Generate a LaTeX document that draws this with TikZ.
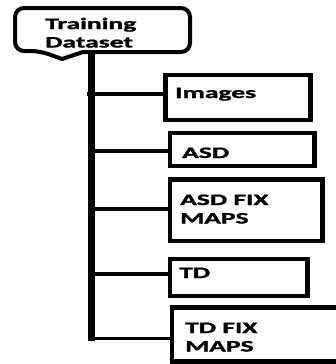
\documentclass[tikz,border=0pt]{standalone}
\usepackage{fontspec}
\setmainfont{Carlito}[BoldFeatures={FakeBold=1.2}]
\newcommand{\lbltext}[1]{\scalebox{1.72}[1]{\begin{tabular}[t]{@{}l@{}}#1\end{tabular}}}
\tikzset{
  boxnode/.style={draw, line width=4.5pt, inner sep=0pt, rectangle},
  lbl/.style={anchor=base west, inner sep=0pt, font=\fontsize{16}{18.5}\selectfont\bfseries, text=black},
  trunkline/.style={line width=7pt},
  branchline/.style={line width=3.2pt},
  calloutline/.style={line width=4pt, line join=round}
}
\begin{document}
\begin{tikzpicture}[x=1pt,y=-1pt]
\useasboundingbox (0,0) rectangle (336,364);
\clip (0,0) rectangle (336,364);
\fill[white] (0,0) rectangle (336,364);

% callout
\draw[calloutline] (83,52) [rounded corners=9pt] -- (190,52) -- (190,8) -- (15,8) -- (15,51) -- (40,51) [sharp corners] -- (62,59) -- cycle;
\node[lbl] (ds) at (45,29) {\lbltext{Training\\Dataset}};

% boxes
\node[boxnode, minimum width=145pt, minimum height=45pt] (img) at (238,97.5) {};
\node[boxnode, minimum width=144.5pt, minimum height=33pt] (asd) at (242.25,149.5) {};
\node[boxnode, minimum width=152.5pt, minimum height=61.5pt] (asdfix) at (246.25,210.25) {};
\node[boxnode, minimum width=137.5pt, minimum height=37pt] (td) at (238.75,277.5) {};
\node[boxnode, minimum width=173pt, minimum height=54pt] (tdfix) at (258.5,334.5) {};

\node[lbl] (limg) at (175,98) {\lbltext{Images}};
\node[lbl] (lasd) at (182,158) {\lbltext{ASD}};
\node[lbl] (lasdfix) at (180,205) {\lbltext{ASD FIX\\MAPS}};
\node[lbl] (ltd) at (179,278) {\lbltext{TD}};
\node[lbl] (ltdfix) at (185,333) {\lbltext{TD FIX\\MAPS}};

% trunk
\coordinate (root) at (91.5,52);
\coordinate (bottom) at (91.5,340.5);
\coordinate (b1) at (87,94);
\coordinate (b2) at (91.5,151);
\coordinate (b3) at (91.5,209);
\coordinate (b4) at (91.5,274);
\coordinate (b5) at (88,338.8);
\draw[trunkline] (root) -- (bottom);
\draw[branchline] (b1) -- (b1 -| img.west);
\draw[branchline] (b2) -- (b2 -| asd.west);
\draw[branchline] (b3) -- (b3 -| asdfix.west);
\draw[branchline] (b4) -- (b4 -| td.west);
\draw[branchline] (b5) -- (b5 -| tdfix.west);
\end{tikzpicture}
\end{document}
